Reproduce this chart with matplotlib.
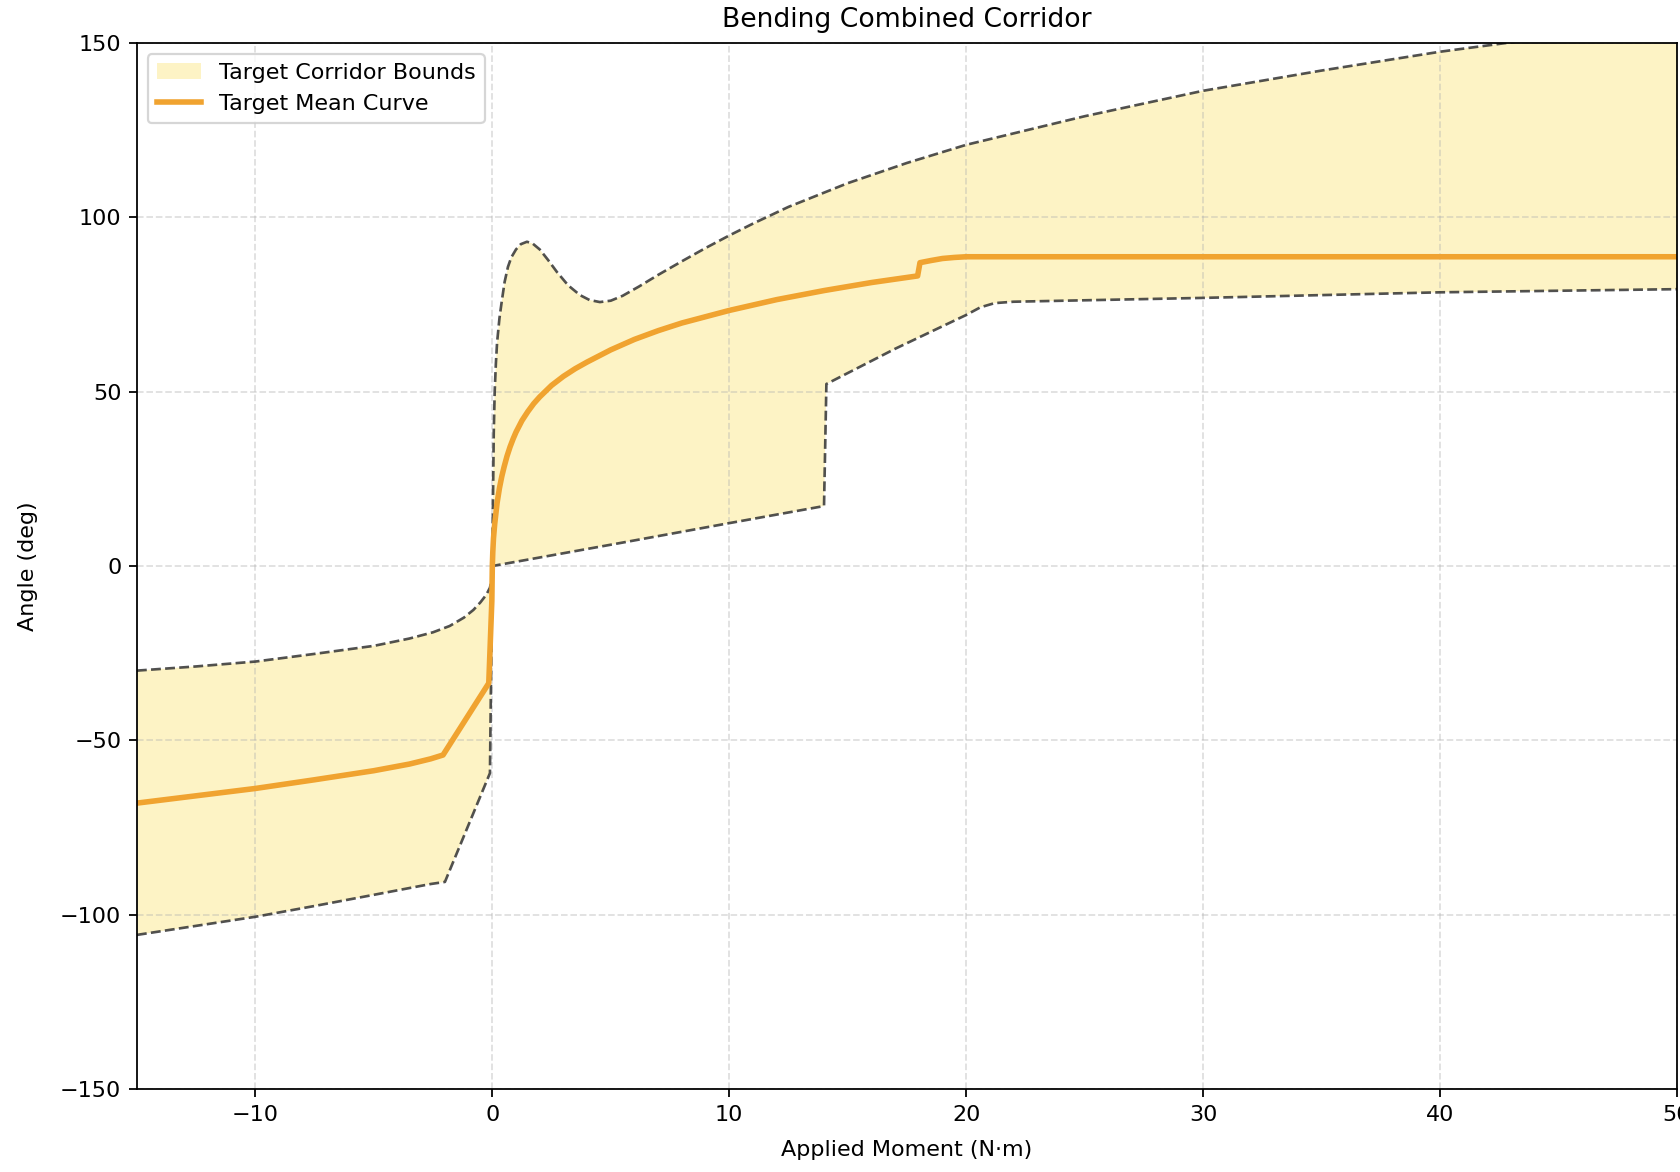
import matplotlib
matplotlib.use("Agg")
import matplotlib.pyplot as plt
import numpy as np

# Upper corridor bound
upper_x = [-15, -12.5, -10, -7.5, -5, -3.5, -2.5, -1.8, -1.2, -0.8, -0.5, -0.25, -0.1, 0.0,
           0.03, 0.06, 0.1, 0.15, 0.2, 0.3, 0.4, 0.52, 0.66, 0.8, 1.0, 1.2, 1.46, 1.7,
           2.0, 2.35, 2.73, 3.2, 3.7, 4.1, 4.54, 5.0, 5.5, 6.2, 7.0, 8.0, 9.0, 10, 11,
           12.5, 15, 17.5, 20, 25, 30, 35, 40, 45, 50]
upper_y = [-30, -28.8, -27.4, -25.2, -22.9, -20.8, -19, -17.2, -14.8, -12.6, -10.4, -8.2, -6.2, -3,
           20, 38, 50, 58, 64, 71, 76, 81.5, 85.8, 88.5, 90.8, 92.3, 93, 92.5,
           90.8, 87.8, 84.3, 80.5, 77.7, 76.3, 75.7, 76.1, 77.5, 80.2, 83.5, 87.4, 91.2, 94.8, 98.2,
           103, 109.8, 115.6, 120.8, 129, 136.3, 142.1, 147.5, 152, 156]

# Lower corridor bound
lower_x = [-15, -12.5, -10, -7.5, -5, -2.6, -2.0, -0.1, 0.0, 5.4, 10, 14.0, 14.1,
           17, 20, 20.6, 21.2, 22, 30, 40, 50]
lower_y = [-105.8, -103.2, -100.6, -97.5, -94.3, -91.2, -90.6, -59.4, 0, 6.6, 12.3, 17.2, 52.2,
           62.3, 72, 74.2, 75.4, 75.8, 76.9, 78.5, 79.4]

# Target mean curve
mean_x = [-15, -12.5, -10, -7.5, -5, -3.5, -2.6, -2.08, -0.15, -0.02, 0.0, 0.02, 0.05, 0.1,
          0.2, 0.3, 0.4, 0.5, 0.62, 0.75, 0.88, 1.0, 1.25, 1.5, 1.75, 2, 2.5, 3, 3.5, 4, 5, 6,
          7, 8, 10, 12, 14, 16, 17.95, 18.05, 18.5, 19, 19.5, 20, 30, 40, 50]
mean_y = [-68, -65.9, -63.8, -61.3, -58.7, -56.8, -55.3, -54.2, -33.6, -10, 0, 4, 8, 12,
          18, 22.3, 25.7, 28.5, 31.5, 34.2, 36.5, 38.4, 41.7, 44.3, 46.6, 48.5, 51.8, 54.4, 56.6, 58.5, 62, 65,
          67.5, 69.7, 73.3, 76.4, 79, 81.3, 83.2, 87, 87.6, 88.2, 88.5, 88.7, 88.7, 88.7, 88.7]

fig = plt.figure(figsize=(10.5, 7.325), dpi=160)
ax = fig.add_axes([0.0815, 0.0708, 0.9167, 0.8925])

# Corridor polygon: upper bound forward, lower bound backward
poly_x = np.concatenate([upper_x, lower_x[::-1]])
poly_y = np.concatenate([upper_y, lower_y[::-1]])
ax.fill(poly_x, poly_y, color="#fdf3c5", linewidth=0, label="Target Corridor Bounds")
ax.plot(upper_x, upper_y, linestyle="--", color="#333333", alpha=0.85, linewidth=1.2)
ax.plot(lower_x, lower_y, linestyle="--", color="#333333", alpha=0.85, linewidth=1.2)
ax.plot(mean_x, mean_y, color="#f0a330", linewidth=2.5, label="Target Mean Curve")

ax.set_xlim(-15, 50)
ax.set_ylim(-150, 150)
ax.set_yticks([-150, -100, -50, 0, 50, 100, 150])
ax.set_xlabel("Applied Moment (N·m)", labelpad=7)
ax.set_ylabel("Angle (deg)", labelpad=10)
ax.set_title("Bending Combined Corridor", pad=7)
ax.grid(True, linestyle="--", alpha=0.4)
ax.legend(loc="upper left")

fig.savefig("out.png", dpi=160)
